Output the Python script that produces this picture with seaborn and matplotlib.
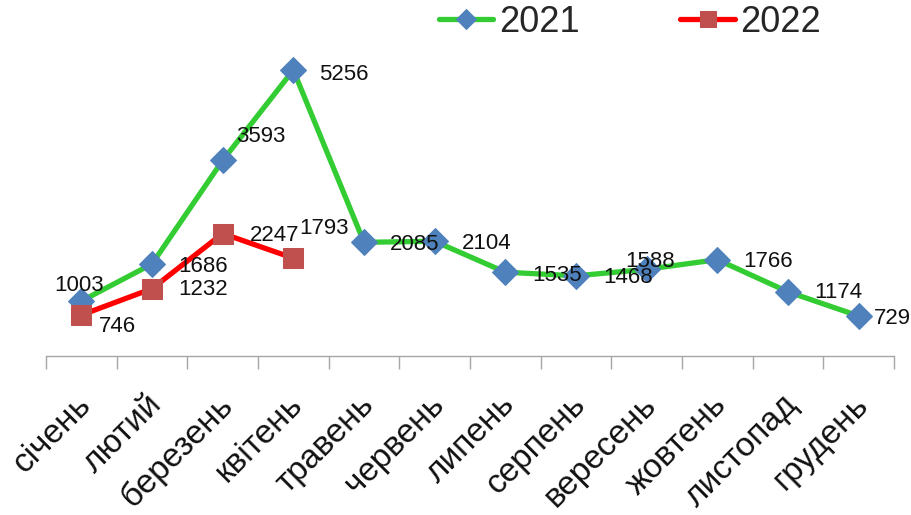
import matplotlib
matplotlib.use("Agg")
import matplotlib.pyplot as plt
import matplotlib.transforms as mtransforms
import seaborn as sns
import pandas as pd

months = ["січень", "лютий", "березень", "квітень", "травень", "червень",
          "липень", "серпень", "вересень", "жовтень", "листопад", "грудень"]
values_2021 = [1003, 1686, 3593, 5256, 2085, 2104, 1535, 1468, 1588, 1766, 1174, 729]
values_2022 = [746, 1232, 2247, 1793]

# label offsets in pixels (left edge of text, y up)
offs_2021 = [(-27, 16), (26, -3), (13, 24), (26, -4), (26, -2), (27, -2),
             (27, -3), (27, -2), (-21, 8), (26, -2), (26, -1), (15, -3)]
offs_2022 = [(18, -11), (26, -1), (27, -2), (6, 30)]

sns.set_style("white")
plt.rcParams["font.family"] = ["Liberation Sans", "DejaVu Sans"]

df21 = pd.DataFrame({"month": months, "value": values_2021})
df22 = pd.DataFrame({"month": months[:len(values_2022)], "value": values_2022})

fig = plt.figure(figsize=(9.11, 5.15), dpi=100)
ax = fig.add_axes([46 / 911, 1 - 355.6 / 515, (894 - 46) / 911, 326 / 515])

sns.lineplot(data=df21, x="month", y="value", ax=ax, color="#33CC33", lw=3.8,
             marker="D", markersize=13, markerfacecolor="#4F81BD",
             markeredgecolor="#4F81BD", label="2021", sort=False)
sns.lineplot(data=df22, x="month", y="value", ax=ax, color="#FF0000", lw=3.8,
             marker="s", markersize=15, markerfacecolor="#C0504D",
             markeredgecolor="#C0504D", label="2022", sort=False)

for i, v in enumerate(values_2021):
    ax.annotate(str(v), (i, v), xytext=offs_2021[i], textcoords="offset pixels",
                ha="left", va="center", fontsize=16, color="#111111")
for i, v in enumerate(values_2022):
    ax.annotate(str(v), (i, v), xytext=offs_2022[i], textcoords="offset pixels",
                ha="left", va="center", fontsize=16, color="#111111")

ax.set_xlim(-0.5, 11.5)
ax.set_ylim(0, 6000)
ax.set_xlabel("")
ax.set_ylabel("")
ax.set_yticks([])
for s in ["left", "top", "right"]:
    ax.spines[s].set_visible(False)
ax.spines["bottom"].set_color("#A6A6A6")
ax.spines["bottom"].set_linewidth(1)

ax.set_xticks(range(len(months)))
ax.set_xticks([i - 0.5 for i in range(len(months) + 1)], minor=True)
ax.tick_params(axis="x", which="major", length=0, pad=24, bottom=True)
ax.tick_params(axis="x", which="minor", length=9, width=1, color="#A6A6A6",
               direction="out", bottom=True)
ax.set_xticklabels(months, rotation=45, ha="right", rotation_mode="anchor",
                   fontsize=24, color="#111111")
shift = mtransforms.ScaledTranslation(-6 / 100, 0, fig.dpi_scale_trans)
for lab in ax.get_xticklabels():
    lab.set_transform(lab.get_transform() + shift)

ax.legend_.remove()
h, l = ax.get_legend_handles_labels()
fig.legend(h, l, loc="center", bbox_to_anchor=(630 / 911, 1 - 22 / 515),
           ncol=2, frameon=False, fontsize=26, handlelength=1.5,
           handletextpad=0.15, columnspacing=2.8, markerscale=0.8)

fig.savefig("out.png", dpi=100)
